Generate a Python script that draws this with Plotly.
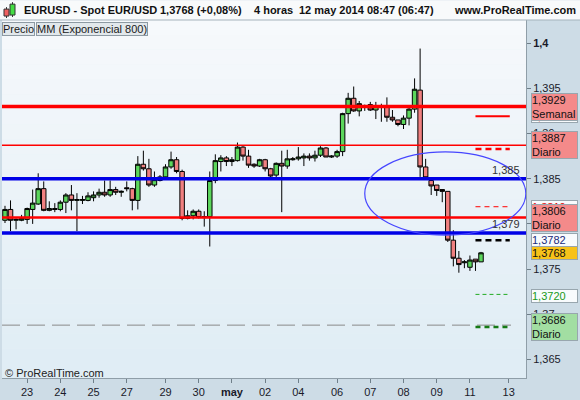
import plotly.graph_objects as go

# EUR/USD 4h candles, 22 abr - 12 may 2014 (x = candle number)
opens = [1.3804, 1.3816, 1.3804, 1.3804, 1.3805, 1.3816, 1.3822, 1.3839, 1.3815, 1.3817,
         1.3816, 1.3824, 1.3832, 1.3826, 1.3826, 1.3826, 1.3829, 1.3832, 1.3835, 1.3832,
         1.3838, 1.3835, 1.3840, 1.3839, 1.3826, 1.3866, 1.3861, 1.3843, 1.3848, 1.3852,
         1.3863, 1.3871, 1.3858, 1.3806, 1.3809, 1.3814, 1.3807, 1.3808, 1.3848, 1.3869,
         1.3873, 1.3869, 1.3870, 1.3885, 1.3875, 1.3866, 1.3864, 1.3871, 1.3861, 1.3854,
         1.3867, 1.3864, 1.3871, 1.3872, 1.3873, 1.3875, 1.3873, 1.3876, 1.3884, 1.3874,
         1.3875, 1.3880, 1.3922, 1.3939, 1.3925, 1.3930, 1.3932, 1.3926, 1.3931, 1.3929,
         1.3918, 1.3915, 1.3910, 1.3917, 1.3927, 1.3948, 1.3863, 1.3848, 1.3843, 1.3838,
         1.3836, 1.3782, 1.3762, 1.3757, 1.3752, 1.3761, 1.3758]
highs = [1.3820, 1.3826, 1.3806, 1.3810, 1.3818, 1.3838, 1.3856, 1.3847, 1.3825, 1.3823,
         1.3826, 1.3834, 1.3843, 1.3834, 1.3831, 1.3835, 1.3836, 1.3839, 1.3848, 1.3848,
         1.3841, 1.3837, 1.3847, 1.3840, 1.3875, 1.3881, 1.3872, 1.3858, 1.3854, 1.3866,
         1.3880, 1.3874, 1.3860, 1.3815, 1.3816, 1.3816, 1.3814, 1.3858, 1.3877, 1.3876,
         1.3875, 1.3874, 1.3890, 1.3886, 1.3882, 1.3867, 1.3872, 1.3872, 1.3862, 1.3868,
         1.3881, 1.3882, 1.3874, 1.3885, 1.3878, 1.3878, 1.3881, 1.3886, 1.3885, 1.3876,
         1.3882, 1.3923, 1.3945, 1.3952, 1.3936, 1.3932, 1.3935, 1.3935, 1.3933, 1.3940,
         1.3926, 1.3915, 1.3920, 1.3930, 1.3961, 1.3994, 1.3872, 1.3848, 1.3843, 1.3838,
         1.3836, 1.3793, 1.3770, 1.3760, 1.3765, 1.3761, 1.3769]
lows = [1.3801, 1.3792, 1.3794, 1.3803, 1.3800, 1.3800, 1.3821, 1.3814, 1.3814, 1.3813,
        1.3814, 1.3812, 1.3815, 1.3792, 1.3822, 1.3825, 1.3825, 1.3829, 1.3830, 1.3830,
        1.3832, 1.3830, 1.3836, 1.3815, 1.3816, 1.3859, 1.3841, 1.3841, 1.3847, 1.3850,
        1.3861, 1.3856, 1.3804, 1.3805, 1.3805, 1.3806, 1.3797, 1.3775, 1.3845, 1.3858,
        1.3864, 1.3864, 1.3869, 1.3870, 1.3862, 1.3862, 1.3863, 1.3858, 1.3850, 1.3850,
        1.3813, 1.3861, 1.3870, 1.3870, 1.3864, 1.3870, 1.3869, 1.3874, 1.3874, 1.3873,
        1.3873, 1.3875, 1.3911, 1.3924, 1.3919, 1.3925, 1.3925, 1.3916, 1.3913, 1.3913,
        1.3913, 1.3908, 1.3905, 1.3909, 1.3923, 1.3852, 1.3850, 1.3832, 1.3831, 1.3824,
        1.3780, 1.3753, 1.3746, 1.3751, 1.3748, 1.3748, 1.3758]
closes = [1.3816, 1.3804, 1.3805, 1.3806, 1.3817, 1.3823, 1.3839, 1.3815, 1.3817, 1.3816,
          1.3824, 1.3832, 1.3826, 1.3827, 1.3827, 1.3831, 1.3832, 1.3835, 1.3832, 1.3838,
          1.3835, 1.3836, 1.3839, 1.3826, 1.3866, 1.3861, 1.3843, 1.3849, 1.3852, 1.3863,
          1.3871, 1.3858, 1.3806, 1.3809, 1.3814, 1.3807, 1.3808, 1.3848, 1.3870, 1.3873,
          1.3869, 1.3871, 1.3885, 1.3875, 1.3865, 1.3864, 1.3871, 1.3861, 1.3853, 1.3867,
          1.3864, 1.3872, 1.3872, 1.3874, 1.3875, 1.3873, 1.3876, 1.3884, 1.3874, 1.3875,
          1.3880, 1.3922, 1.3939, 1.3925, 1.3933, 1.3931, 1.3926, 1.3931, 1.3930, 1.3918,
          1.3915, 1.3910, 1.3917, 1.3927, 1.3949, 1.3863, 1.3851, 1.3842, 1.3837, 1.3836,
          1.3782, 1.3762, 1.3755, 1.3758, 1.3760, 1.3758, 1.3768]
candles = list(range(len(opens)))

# day ticks (candle number where each day starts)
dayTicks = [4, 10, 16, 22, 29, 35, 41, 47, 53, 60, 66, 72, 78, 84, 91]
dayLabels = ['23', '24', '25', '27', '29', '30', '<b>may</b>', '02', '04', '06', '07', '08', '09', '11', '13']

priceTicks = [1.365, 1.37, 1.375, 1.38, 1.385, 1.39, 1.395, 1.4]
priceLabels = ['1,365', '1,37', '1,375', '1,38', '1,385', '1,39', '1,395', '<b>1,4</b>']

# levels drawn across the whole chart
levelValues = [1.3930, 1.3887, 1.3850, 1.3807, 1.3790]
levelColors = ['#ff0000', '#ff0000', '#0000e6', '#ff0000', '#0000e6']
levelWidths = [3.5, 1.5, 3.5, 2.5, 3.5]

# short projected levels at the right
projValues = [1.3919, 1.3883, 1.3819, 1.3782, 1.3722, 1.3686]
projColors = ['#ff0000', '#ff0000', '#ff0000', '#000000', '#22aa22', '#157a15']
projDash = ['solid', '6px,4px', '5px,4px', '6px,4px', '4px,3px', '5px,4px']
projWidths = [2, 2.5, 1, 2.5, 1, 2.5]

emaValue = 1.3688  # MM (Exponencial 800)

# price tags on the right axis (first ones are covered by the later ones)
tagValues = [1.3919, 1.3819, 1.3929, 1.3887, 1.3806, 1.3782, 1.3768, 1.3720, 1.3686]
tagTexts = ['1,3919', '1,3819', '1,3929<br>Semanal', '1,3887<br>Diario', '1,3806<br>Diario',
            '1,3782', '1,3768', '1,3720', '1,3686<br>Diario']
tagFills = ['#f8fbfd', '#f8fbfd', '#f48a8a', '#f48a8a', '#f48a8a', '#f8fbfd', '#f7c21a', '#f8fbfd', '#a2dea2']
tagFontColors = ['#e00000', '#e00000', '#111111', '#111111', '#111111', '#1a2a7a', '#111111', '#1a9a1a', '#111111']

FONT = 'Liberation Sans'
W, H = 580, 400
L, R, T, B = 2, 54, 20, 19
plotW, plotH = W - L - R, H - T - B

def px(x):
    return (x - L) / plotW

def py(y):
    return (H - B - y) / plotH

fig = go.Figure()
fig.add_trace(go.Candlestick(
    x=candles, open=opens, high=highs, low=lows, close=closes,
    increasing=dict(line=dict(color='black', width=1), fillcolor='#5cd65c'),
    decreasing=dict(line=dict(color='black', width=1), fillcolor='#f08080'),
    whiskerwidth=0, hoverinfo='skip', showlegend=False
))

shapes = []
# soft vertical gradient for the plot background
nBands = 24
for i in range(nBands):
    f = i / (nBands - 1)
    c = (int(246 - 22 * f), int(249 - 12 * f), int(252 - 7 * f))
    shapes.append(dict(type='rect', xref='paper', yref='paper', x0=0, x1=1,
                       y0=1 - (i + 1) / nBands, y1=1 - i / nBands, layer='below',
                       fillcolor='rgb(%d,%d,%d)' % c, line=dict(width=0)))
# header bar
shapes.append(dict(type='rect', xref='paper', yref='paper', x0=px(0), x1=px(W), y0=py(20), y1=py(0),
                   fillcolor='#f8fafb', line=dict(width=0)))
shapes.append(dict(type='line', xref='paper', yref='paper', x0=px(0), x1=px(W), y0=py(20), y1=py(20),
                   line=dict(color='#a5b3bc', width=1)))
# small candle icon
shapes.append(dict(type='line', xref='paper', yref='paper', x0=px(6.5), x1=px(6.5), y0=py(18), y1=py(7),
                   line=dict(color='#333', width=1)))
shapes.append(dict(type='rect', xref='paper', yref='paper', x0=px(4), x1=px(9), y0=py(16), y1=py(9),
                   fillcolor='#f06060', line=dict(color='#333', width=1)))
shapes.append(dict(type='line', xref='paper', yref='paper', x0=px(12.5), x1=px(12.5), y0=py(17), y1=py(2),
                   line=dict(color='#333', width=1)))
shapes.append(dict(type='rect', xref='paper', yref='paper', x0=px(10), x1=px(15), y0=py(15), y1=py(4),
                   fillcolor='#44dd44', line=dict(color='#333', width=1)))

for v, c, w in zip(levelValues, levelColors, levelWidths):
    shapes.append(dict(type='line', xref='paper', yref='y', x0=0, x1=1, y0=v, y1=v,
                       line=dict(color=c, width=w)))
shapes.append(dict(type='line', xref='paper', yref='y', x0=0, x1=px(511), y0=emaValue, y1=emaValue,
                   line=dict(color='#8a8a8a', width=1, dash='18px,7px')))
for v, c, d, w in zip(projValues, projColors, projDash, projWidths):
    shapes.append(dict(type='line', xref='x', yref='y', x0=85, x1=91.2, y0=v, y1=v,
                       line=dict(color=c, width=w, dash=d)))
# ellipse around the break
shapes.append(dict(type='circle', xref='x', yref='y', x0=65.0, x1=94.1, y0=1.37875, y1=1.38796,
                   line=dict(color='#4646ff', width=1.2)))

ann = []
for v, t, f, fc in zip(tagValues, tagTexts, tagFills, tagFontColors):
    ann.append(dict(xref='paper', yref='y', x=1, y=v, xanchor='left', yanchor='middle', xshift=5,
                    text=t, showarrow=False, align='left', width=45, bgcolor=f,
                    bordercolor='#98a6ae', borderwidth=1, borderpad=0,
                    font=dict(family=FONT, size=11, color=fc)))
for v, t in zip([1.3850, 1.3790], ['1,385', '1,379']):
    ann.append(dict(xref='paper', yref='y', x=1, y=v, xanchor='right', yanchor='bottom', xshift=-4, yshift=1,
                    text=t, showarrow=False, font=dict(family=FONT, size=11, color='#333')))

header = [('EURUSD - Spot EUR/USD', 22), ('1,3768 (+0,08%)', 158), ('4 horas', 252),
          ('12 may 2014 08:47 (06:47)', 297), ('www.ProRealTime.com', 452)]
for t, x in header:
    ann.append(dict(xref='paper', yref='paper', x=px(x), y=py(10), xanchor='left', yanchor='middle',
                    text='<b>' + t + '</b>', showarrow=False, font=dict(family=FONT, size=11, color='#111')))
for t, x in [('Precio', 2), ('MM (Exponencial 800)', 36)]:
    ann.append(dict(xref='paper', yref='paper', x=px(x), y=py(22), xanchor='left', yanchor='top',
                    text=t, showarrow=False, bgcolor='#e2e8ec', bordercolor='#8d9aa3', borderwidth=1,
                    borderpad=0, font=dict(family=FONT, size=11, color='#1a1a1a')))
ann.append(dict(xref='paper', yref='paper', x=px(3), y=py(376), xanchor='left', yanchor='middle',
                text='© ProRealTime.com', showarrow=False, font=dict(family=FONT, size=11, color='#222')))

fig.update_layout(
    width=W, height=H, margin=dict(l=L, r=R, t=T, b=B),
    paper_bgcolor='#cddce6', plot_bgcolor='#eaf2f8',
    shapes=shapes, annotations=ann, showlegend=False, hovermode=False,
    boxgap=0.1, boxgroupgap=0.1,
    xaxis=dict(range=[-0.54, 94.13], tickvals=dayTicks, ticktext=dayLabels, showgrid=False, zeroline=False,
               ticks='outside', ticklen=4, tickcolor='#6f7f89', showline=True, linecolor='#8f9ea8',
               rangeslider=dict(visible=False), tickfont=dict(family=FONT, size=11, color='#1a1a2a')),
    yaxis=dict(side='right', range=[1.36295, 1.40256], tickvals=priceTicks, ticktext=priceLabels,
               showgrid=False, zeroline=False, ticks='outside', ticklen=4, tickcolor='#6f7f89',
               showline=True, linecolor='#8f9ea8', tickfont=dict(family=FONT, size=11, color='#1a1a2a')),
)

fig.write_html("out.html", config={'displayModeBar': False},
               post_script="document.body.style.margin='0';")
